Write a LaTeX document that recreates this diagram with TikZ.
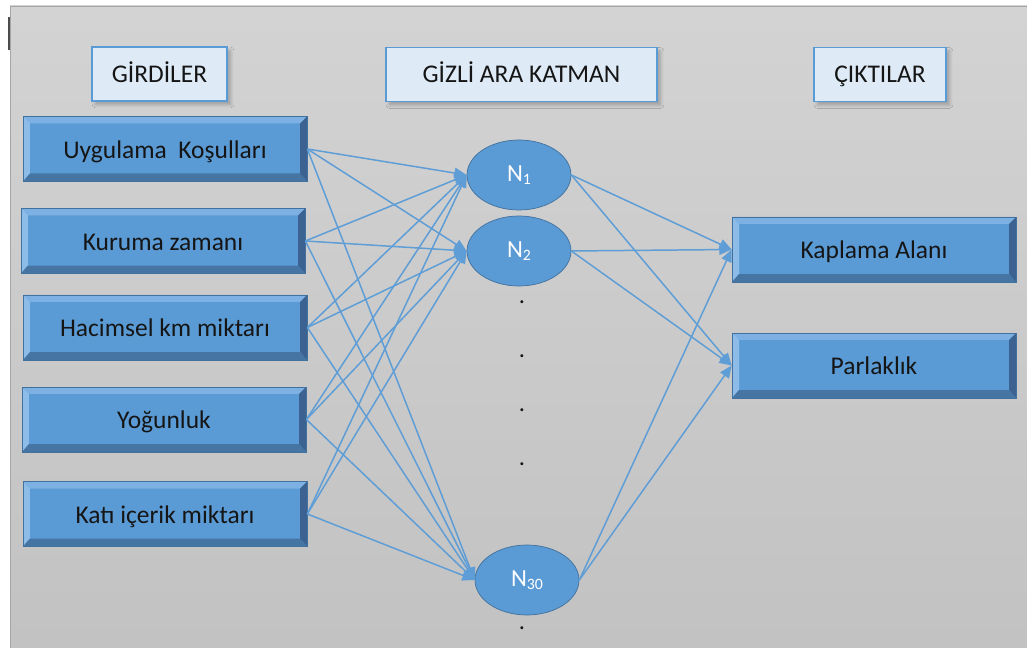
\documentclass[tikz,border=0pt]{standalone}
\usepackage{fontspec}
\setmainfont{Carlito}
\usetikzlibrary{arrows.meta,shapes.geometric,shadows.blur,calc}

\definecolor{bgtop}{HTML}{D3D3D3}
\definecolor{bgbot}{HTML}{C2C2C2}
\definecolor{bgedge}{HTML}{A6A6A6}
\definecolor{face}{HTML}{5B9BD5}
\definecolor{faceedge}{HTML}{41719C}
\definecolor{bevtop}{HTML}{7EB1E3}
\definecolor{bevleft}{HTML}{8EBCE8}
\definecolor{bevright}{HTML}{3B6290}
\definecolor{bevbot}{HTML}{4675A3}
\definecolor{hdrfill}{HTML}{DEEBF7}
\definecolor{hdredge}{HTML}{5B9BD5}
\definecolor{linkcol}{HTML}{5E9DD6}
\definecolor{txt}{HTML}{151515}

\begin{document}
\begin{tikzpicture}[x=0.02cm,y=-0.02cm,
  header/.style={draw=hdredge, line width=0.9pt, fill=hdrfill, inner sep=0pt,
    minimum height=54*0.02cm, text=txt, font=\fontsize{14.5}{17}\selectfont,
    text height=9.4pt, text depth=0pt,
    blur shadow={shadow xshift=0.7mm, shadow yshift=-0.7mm, shadow opacity=25, shadow blur steps=6}},
  bevelbox/.style={fill=face, draw=faceedge, line width=0.4pt, inner sep=0pt,
    minimum width=284*0.02cm, minimum height=65*0.02cm, text=txt,
    font=\fontsize{14.5}{17}\selectfont, text height=11.5pt, text depth=1pt,
    path picture={
      \coordinate (pnw) at (path picture bounding box.north west);
      \coordinate (pne) at (path picture bounding box.north east);
      \coordinate (psw) at (path picture bounding box.south west);
      \coordinate (pse) at (path picture bounding box.south east);
      \fill[bevtop] (pnw) -- (pne) -- ($(pne)+(-0.14cm,-0.14cm)$) -- ($(pnw)+(0.14cm,-0.14cm)$) -- cycle;
      \fill[bevleft] (pnw) -- ($(pnw)+(0.14cm,-0.14cm)$) -- ($(psw)+(0.14cm,0.16cm)$) -- (psw) -- cycle;
      \fill[bevright] (pne) -- (pse) -- ($(pse)+(-0.14cm,0.16cm)$) -- ($(pne)+(-0.14cm,-0.14cm)$) -- cycle;
      \fill[bevbot] (psw) -- (pse) -- ($(pse)+(-0.14cm,0.16cm)$) -- ($(psw)+(0.14cm,0.16cm)$) -- cycle;
    }},
  neuron/.style={ellipse, fill=face, draw=faceedge, line width=0.4pt, inner sep=0pt,
    minimum width=104*0.02cm, minimum height=70*0.02cm, text=white,
    font=\fontsize{14}{16}\selectfont},
  gapdot/.style={inner sep=0pt, text=txt, font=\fontsize{14}{16}\selectfont},
  link/.style={draw=linkcol, line width=0.85pt, -{Triangle[length=7pt,width=6pt]}}
]
% canvas
\useasboundingbox (0,0) rectangle (1027,648);
\fill[white] (0,0) rectangle (1027,648);
\shade[top color=bgtop, bottom color=bgbot] (10,6) rectangle (1027,648);
\draw[bgedge, line width=0.5pt] (10,648) -- (10,6) -- (1027,6);
\draw[gray!60!black, line width=1.2pt] (9,17) -- (9,50);

% column titles
\node[header, minimum width=135*0.02cm] (hin)  at (159.5,74) {GİRDİLER};
\node[header, minimum width=271*0.02cm] (hhid) at (521.5,74.5) {GİZLİ ARA KATMAN};
\node[header, minimum width=132*0.02cm] (hout) at (880,74.5) {ÇIKTILAR};

% inputs
\node[bevelbox] (in1) at (165,149)   {Uygulama\ \ Koşulları};
\node[bevelbox] (in2) at (163,241)   {Kuruma zamanı};
\node[bevelbox] (in3) at (165,327.5) {Hacimsel km miktarı};
\node[bevelbox] (in4) at (164,419.5) {Yoğunluk};
\node[bevelbox] (in5) at (165,514)   {Katı içerik miktarı};

% hidden neurons
\node[neuron] (n1)  at (519,175) {N{\fontsize{9}{10}\selectfont\raisebox{-1.5pt}{1}}};
\node[neuron] (n2)  at (519,251) {N{\fontsize{9}{10}\selectfont\raisebox{-1.5pt}{2}}};
\node[neuron] (n30) at (527,580) {N{\fontsize{9}{10}\selectfont\raisebox{-1.5pt}{30}}};

\node[gapdot] (d1) at (522,302) {.};
\node[gapdot] (d2) at (522,356) {.};
\node[gapdot] (d3) at (522,410) {.};
\node[gapdot] (d4) at (522,464) {.};
\node[gapdot] (d5) at (522,628) {.};

% outputs
\node[bevelbox] (o1) at (874,249.5) {Kaplama Alanı};
\node[bevelbox] (o2) at (874,365.5) {Parlaklık};

% connections
\foreach \s in {in1,in2,in3,in4,in5}
  \foreach \t in {n1,n2,n30}
    \draw[link] (\s.east) -- (\t.west);
\foreach \s in {n1,n2,n30}
  \foreach \t in {o1,o2}
    \draw[link] (\s.east) -- (\t.west);
\end{tikzpicture}
\end{document}
